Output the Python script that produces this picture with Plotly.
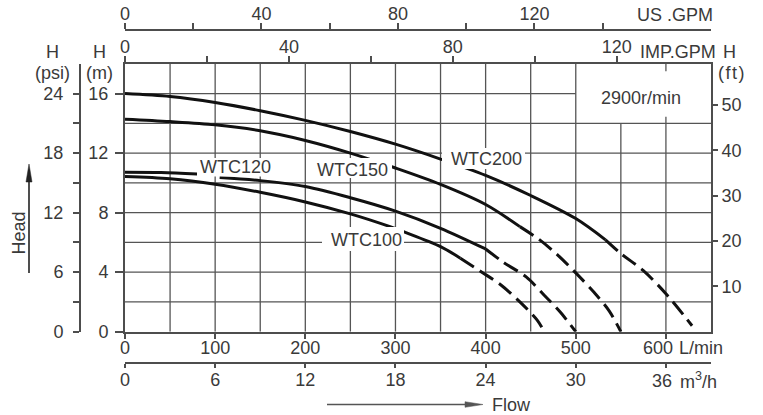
import plotly.graph_objects as go

# ---------------- data ----------------
lpm_ticks = [0, 100, 200, 300, 400, 500]
lpm_last = 600
m3h_ticks = [0, 6, 12, 18, 24, 30]
m3h_last = 36
imp_ticks = [0, 40, 80, 120]
imp_minor = [20, 60, 100]
us_ticks = [0, 40, 80, 120]
us_minor = [20, 60, 100, 140]
psi_ticks = [0, 6, 12, 18, 24]
psi_minor = [3, 9, 15, 21]
m_ticks = [0, 4, 8, 12, 16]
ft_ticks = [10, 20, 30, 40, 50]

wtc200_q_solid = [0, 50, 100, 150, 200, 250, 300, 350, 400, 450, 500, 533]
wtc200_h_solid = [16.0, 15.8, 15.4, 14.85, 14.2, 13.45, 12.6, 11.6, 10.5, 9.15, 7.6, 6.17]
wtc200_q_dash = [533, 550, 575, 600, 629]
wtc200_h_dash = [6.17, 5.25, 4.1, 2.55, 0.4]

wtc150_q_solid = [0, 50, 100, 150, 200, 250, 300, 350, 400, 438]
wtc150_h_solid = [14.28, 14.12, 13.9, 13.5, 12.85, 12.0, 11.0, 9.9, 8.55, 7.06]
wtc150_q_dash = [438, 460, 480, 500, 520, 537, 550]
wtc150_h_dash = [7.06, 6.17, 5.15, 3.95, 2.66, 1.4, 0]

wtc120_q_solid = [0, 40, 80, None, 105, 150, 200, 250, 300, 350, 400]
wtc120_h_solid = [10.72, 10.7, 10.6, None, 10.36, 10.15, 9.75, 9.0, 8.1, 6.95, 5.56]
wtc120_q_dash = [400, 420, 445, 465, 483, 500]
wtc120_h_dash = [5.56, 4.65, 3.68, 2.45, 1.3, 0]

wtc100_q_solid = [0, 50, 100, 150, 200, 250, 294, 309, 350, 372]
wtc100_h_solid = [10.42, 10.27, 9.91, 9.37, 8.72, 7.92, 7.06, 6.72, 5.72, 4.94]
wtc100_q_dash = [372, 395, 417, 438, 457, 465]
wtc100_h_dash = [4.94, 4.03, 3.14, 2.0, 0.79, 0]

# ---------------- geometry / style ----------------
W, H = 763, 415
X0, X1 = 125, 711
Y0, Y1 = 331.7, 63.8
Q_MAX, H_MAX = 650, 18

def pxq(x):
    return (x - X0) / (X1 - X0) * Q_MAX

def pyh(y):
    return (Y0 - y) / (Y0 - Y1) * H_MAX

def fx(x):
    return x / W

def fy(y):
    return 1 - y / H

FONT = "Liberation Sans, Arial, sans-serif"
TXT = "#3a3a3a"
AX = "#4d4d4d"
GRID = "#555555"
CURVE = "#111111"
FS = 18
tf = dict(family=FONT, size=FS, color=TXT)

fig = go.Figure()

def add_curve(qs, hs, dash):
    fig.add_trace(go.Scatter(
        x=qs, y=hs, mode="lines", connectgaps=False,
        line=dict(color=CURVE, width=3, dash=dash, shape="spline", smoothing=0.9),
        hoverinfo="skip", showlegend=False))

add_curve(wtc200_q_solid, wtc200_h_solid, "solid")
add_curve(wtc200_q_dash, wtc200_h_dash, "16px,7px")
add_curve(wtc150_q_solid, wtc150_h_solid, "solid")
add_curve(wtc150_q_dash, wtc150_h_dash, "16px,7px")
add_curve(wtc120_q_solid, wtc120_h_solid, "solid")
add_curve(wtc120_q_dash, wtc120_h_dash, "16px,7px")
add_curve(wtc100_q_solid, wtc100_h_solid, "solid")
add_curve(wtc100_q_dash, wtc100_h_dash, "16px,7px")

for xa, ya in [("x2", "y"), ("x3", "y"), ("x4", "y"), ("x", "y2"), ("x", "y3")]:
    fig.add_trace(go.Scatter(x=[None], y=[None], xaxis=xa, yaxis=ya,
                             mode="lines", hoverinfo="skip", showlegend=False))

shapes = []
for q in range(50, 650, 50):
    top = 18
    if q in (550, 600):
        top = 14
    shapes.append(dict(type="line", xref="x", yref="y", x0=q, x1=q, y0=0, y1=top,
                       line=dict(color=GRID, width=1.3), layer="below"))
shapes.append(dict(type="line", xref="x", yref="y", x0=600, x1=600, y0=14, y1=14.45,
                   line=dict(color=GRID, width=1.3), layer="below"))
shapes.append(dict(type="line", xref="x", yref="y", x0=600, x1=600, y0=17.5, y1=18,
                   line=dict(color=GRID, width=1.3), layer="below"))
for h in range(2, 18, 2):
    right = 500 if h == 16 else 650
    shapes.append(dict(type="line", xref="x", yref="y", x0=0, x1=right, y0=h, y1=h,
                       line=dict(color=GRID, width=1.3), layer="below"))

# white backgrounds behind curve labels
for (a, b, c, d) in [(442, 525, 148, 169), (313, 392, 158, 178), (322, 404, 227, 251),
                     (197, 276, 158, 176.5)]:
    shapes.append(dict(type="rect", xref="x", yref="y", x0=pxq(a), x1=pxq(b),
                       y0=pyh(d), y1=pyh(c), fillcolor="white",
                       line=dict(width=0), layer="above"))

# Head arrow
shapes.append(dict(type="line", xref="paper", yref="paper", x0=fx(29), x1=fx(29),
                   y0=fy(273), y1=fy(178), line=dict(color="#222", width=1.6)))
shapes.append(dict(type="path", xref="paper", yref="paper",
                   path=f"M {fx(29)} {fy(164)} L {fx(32)} {fy(182)} L {fx(26)} {fy(182)} Z",
                   fillcolor="#222", line=dict(color="#222", width=0.5)))
# Flow arrow
shapes.append(dict(type="line", xref="paper", yref="paper", x0=fx(327), x1=fx(468),
                   y0=fy(404.5), y1=fy(404.5), line=dict(color="#555", width=1.6)))
shapes.append(dict(type="path", xref="paper", yref="paper",
                   path=f"M {fx(483)} {fy(404.5)} L {fx(465)} {fy(401.7)} L {fx(465)} {fy(407.3)} Z",
                   fillcolor="#555", line=dict(color="#555", width=0.5)))

ann = []

def ptxt(text, x, y, xanchor="center", angle=0, size=FS):
    ann.append(dict(xref="paper", yref="paper", x=fx(x), y=fy(y), text=text,
                    showarrow=False, xanchor=xanchor, yanchor="middle", textangle=angle,
                    font=dict(family=FONT, size=size, color=TXT)))

def dtxt(text, x, y):
    ann.append(dict(xref="x", yref="y", x=pxq(x), y=pyh(y), text=text, showarrow=False,
                    xanchor="center", yanchor="middle",
                    font=dict(family=FONT, size=FS, color=TXT)))

ptxt("Head", 18.5, 233, angle=-90)
ptxt("Flow", 490, 405, xanchor="left")
ptxt("H", 52, 52)
ptxt("(psi)", 52.5, 73)
ptxt("H", 99, 52)
ptxt("(m)", 99, 73)
ptxt("H", 729, 52)
ptxt("(\u200af\u200at\u200a)", 731, 73)
ptxt("US .GPM", 635, 15, xanchor="left")
ptxt("IMP.GPM", 638, 52, xanchor="left")
ptxt("L/min", 677, 348, xanchor="left")
ptxt("m<sup>3</sup>/h", 678, 380, xanchor="left")

# last tick labels, nudged left to make room for the unit texts
ann.append(dict(xref="x", yref="paper", x=lpm_last, y=fy(348), xshift=-8,
                text=str(lpm_last), showarrow=False, xanchor="center", yanchor="middle",
                font=tf))
ann.append(dict(xref="x4", yref="paper", x=m3h_last, y=fy(380.5), xshift=-3.5,
                text=str(m3h_last), showarrow=False, xanchor="center", yanchor="middle",
                font=tf))

dtxt("WTC200", 486, 159)
dtxt("WTC150", 352, 169.5)
dtxt("WTC120", 235.5, 167.3)
dtxt("WTC100", 366, 240)
dtxt("2900r/min", 641, 98.3)

common = dict(showgrid=False, zeroline=False, ticks="outside", tickwidth=1.5,
              tickcolor=AX, showline=True, linecolor=AX, linewidth=2,
              tickfont=tf, fixedrange=True)

def minor(vals, ln):
    return dict(tickmode="array", tickvals=vals, ticks="outside", ticklen=ln,
                tickwidth=1.5, tickcolor=AX, showgrid=False)

fig.update_layout(
    width=W, height=H, margin=dict(l=0, r=0, t=0, b=0, autoexpand=False),
    paper_bgcolor="white", plot_bgcolor="white",
    shapes=shapes, annotations=ann,
    xaxis=dict(domain=[X0 / W, X1 / W], range=[0, Q_MAX], tickvals=lpm_ticks,
               minor=minor([lpm_last], 5), ticklen=5, ticklabelstandoff=-6,
               anchor="y", **common),
    yaxis=dict(domain=[1 - Y0 / H, 1 - Y1 / H], range=[0, H_MAX], tickvals=m_ticks,
               ticklen=8, ticklabelstandoff=3, anchor="x", **common),
    xaxis2=dict(overlaying="x", side="top", anchor="y", range=[0, Q_MAX / 4.546],
                tickvals=imp_ticks, ticklen=6, minor=minor(imp_minor, 6),
                ticklabelstandoff=-4, **common),
    xaxis3=dict(overlaying="x", side="top", anchor="free", position=1 - 30 / H,
                range=[0, Q_MAX / 3.785], tickvals=us_ticks, minor=minor(us_minor, 6),
                ticklen=6, ticklabelstandoff=-4, **common),
    xaxis4=dict(overlaying="x", side="bottom", anchor="free", position=1 - 362.7 / H,
                range=[0, 39], tickvals=m3h_ticks, minor=minor([m3h_last], 4),
                ticklen=4, ticklabelstandoff=-3, **common),
    yaxis2=dict(overlaying="y", side="right", anchor="x", range=[0, H_MAX / 0.3048],
                tickvals=ft_ticks, ticklen=5, **common),
    yaxis3=dict(overlaying="y", side="left", anchor="free", position=80 / W,
                range=[0, H_MAX * 1.5], tickvals=psi_ticks, minor=minor(psi_minor, 6),
                ticklen=6, ticklabelstandoff=6, **common),
)

fig.write_html("out.html", config={"displayModeBar": False},
               post_script="document.body.style.margin='0';document.body.style.overflow='hidden';")
